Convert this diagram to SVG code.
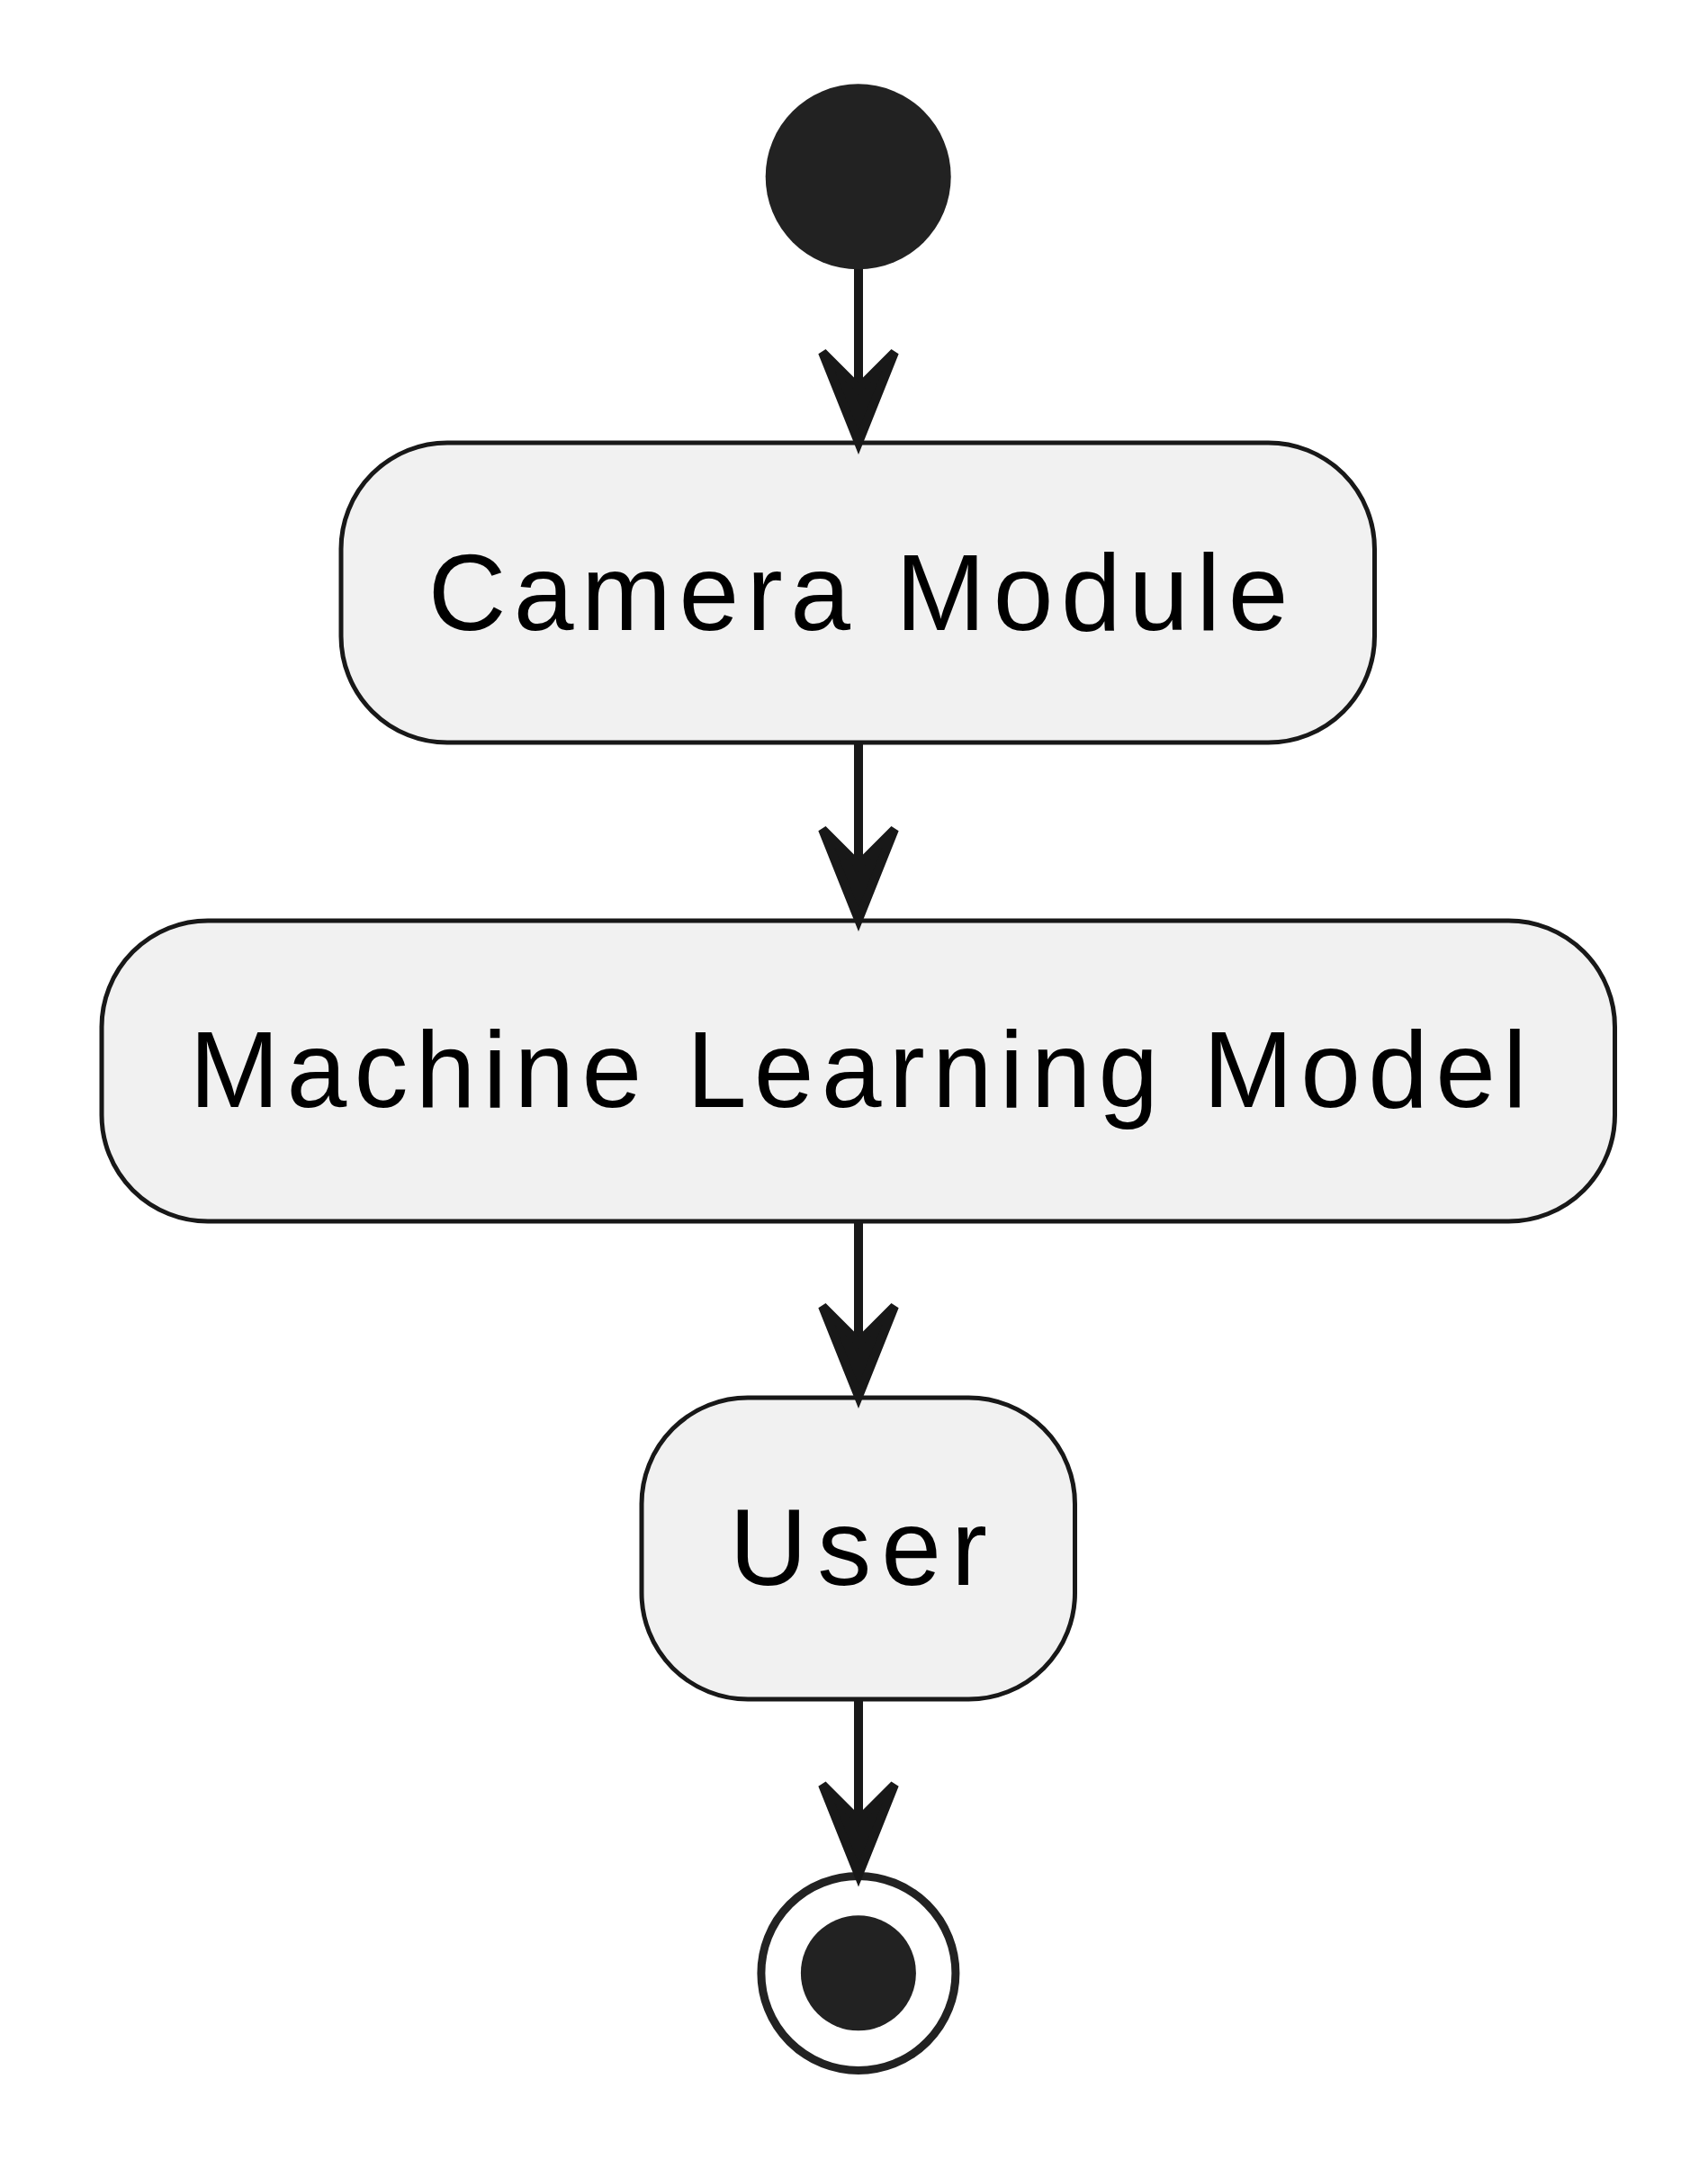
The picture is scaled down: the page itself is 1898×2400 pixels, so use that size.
<svg xmlns="http://www.w3.org/2000/svg" xmlns:xlink="http://www.w3.org/1999/xlink" width="1898" height="2400" viewBox="0 0 1898 2400">
<style>
.box{fill:#F1F1F1;stroke:#181818;stroke-width:5}
.lbl{font-family:"Liberation Sans",Arial,sans-serif;font-size:120px;fill:#000000}
.edge{stroke:#181818;stroke-width:10;fill:none}
.head{fill:#181818;stroke:#181818;stroke-width:10;stroke-linejoin:miter;stroke-miterlimit:4}
</style>
<defs>
<path id="ah" class="head" d="M0,0 L-40,-100 L0,-60 L40,-100 Z"/>
</defs>
<rect width="1898" height="2400" fill="#FFFFFF"/>
<g id="start"><circle cx="953.7" cy="196.3" r="103" fill="#222222"/></g>
<g id="camera">
<rect class="box" x="379" y="492" width="1148.5" height="333" rx="118" ry="118"/>
<text class="lbl" x="475.7" y="699.5" letter-spacing="8.5">Camera Module</text>
</g>
<g id="ml">
<rect class="box" x="113" y="1023" width="1681.5" height="334" rx="118" ry="118"/>
<text class="lbl" x="210.4" y="1230" letter-spacing="8.2">Machine Learning Model</text>
</g>
<g id="user">
<rect class="box" x="713" y="1553" width="481.5" height="335" rx="118" ry="118"/>
<text class="lbl" x="810.5" y="1760.5" letter-spacing="11">User</text>
</g>
<g id="end">
<circle cx="953.9" cy="2192.4" r="108" fill="#FFFFFF" stroke="#222222" stroke-width="9"/>
<circle cx="953.9" cy="2192.3" r="64" fill="#222222"/>
</g>
<g id="connectors">
<line class="edge" x1="954" y1="299" x2="954" y2="440"/>
<use xlink:href="#ah" href="#ah" x="954" y="491.5"/>
<line class="edge" x1="954" y1="825" x2="954" y2="970"/>
<use xlink:href="#ah" href="#ah" x="954" y="1021.5"/>
<line class="edge" x1="954" y1="1357" x2="954" y2="1500"/>
<use xlink:href="#ah" href="#ah" x="954" y="1551.5"/>
<line class="edge" x1="954" y1="1888" x2="954" y2="2030"/>
<use xlink:href="#ah" href="#ah" x="954" y="2083"/>
</g>
</svg>
